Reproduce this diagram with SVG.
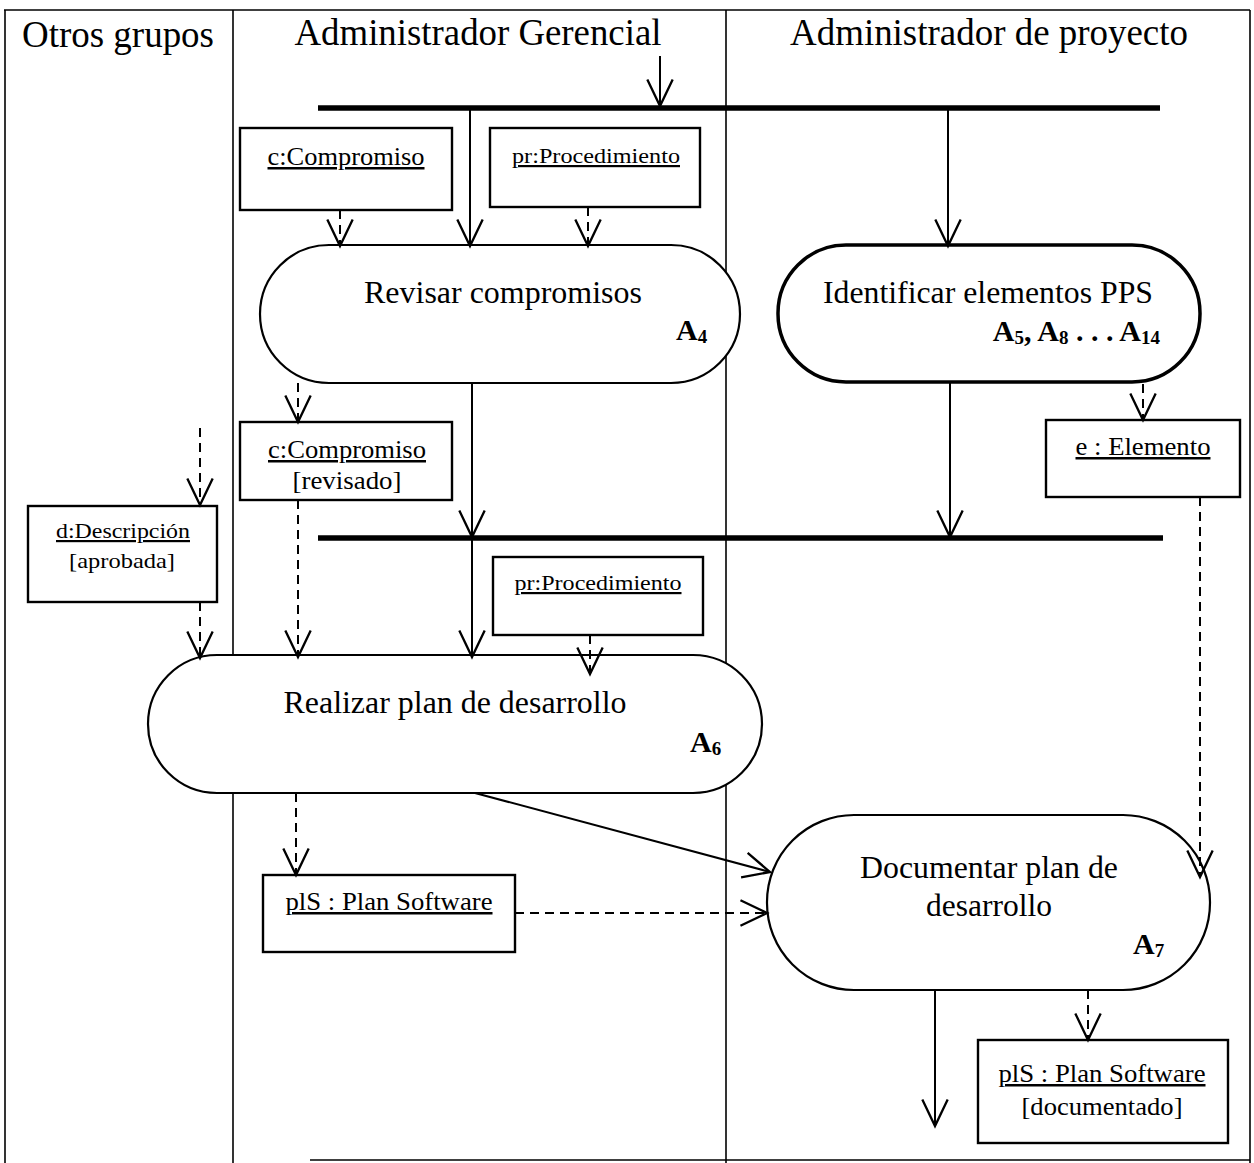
<svg xmlns="http://www.w3.org/2000/svg" width="1254" height="1163" viewBox="0 0 1254 1163">
  <style>
    text { font-family: "Liberation Serif", "Times New Roman", serif; fill: #000; }
    .lane { stroke: #000; stroke-width: 1.6; fill: none; }
    .hdr { font-size: 37px; }
    .act { fill: #fff; stroke: #000; stroke-width: 2.2; }
    .act-bold { fill: #fff; stroke: #000; stroke-width: 3.5; }
    .obj { fill: #fff; stroke: #000; stroke-width: 2.4; }
    .name { font-size: 31px; }
    .code { font-size: 30px; font-weight: bold; }
    .sub { font-size: 19px; font-weight: bold; }
    .lbl { font-size: 25px; }
    .lbl-s { font-size: 22px; }
    .u { text-decoration: underline; }
    .flow { stroke: #000; stroke-width: 2; fill: none; marker-end: url(#open); }
    .dflow { stroke: #000; stroke-width: 2; fill: none; stroke-dasharray: 9 6; marker-end: url(#open); }
    .bar { stroke: #000; stroke-width: 5.5; }
  </style>
  <defs>
    <marker id="open" markerUnits="userSpaceOnUse" markerWidth="30" markerHeight="30" viewBox="-24 -13 26 26" refX="0" refY="0" orient="auto" overflow="visible">
      <path d="M-23,-11 L0,0 L-23,11" fill="none" stroke="#000" stroke-width="2"/>
    </marker>
  </defs>

  <rect width="1254" height="1163" fill="#fff"/>

  <!-- swimlanes -->
  <g id="lanes">
    <line class="lane" x1="4" y1="10" x2="1250" y2="10"/>
    <line class="lane" x1="5" y1="10" x2="5" y2="1163"/>
    <line class="lane" x1="233" y1="10" x2="233" y2="1163"/>
    <line class="lane" x1="726" y1="10" x2="726" y2="1163"/>
    <line class="lane" x1="1250" y1="10" x2="1250" y2="1163"/>
    <line class="lane" x1="310" y1="1160" x2="1250" y2="1160"/>
    <text class="hdr" x="118" y="47" text-anchor="middle" textLength="192" lengthAdjust="spacingAndGlyphs">Otros grupos</text>
    <text class="hdr" x="478" y="45" text-anchor="middle" textLength="367" lengthAdjust="spacingAndGlyphs">Administrador Gerencial</text>
    <text class="hdr" x="989" y="45" text-anchor="middle" textLength="398" lengthAdjust="spacingAndGlyphs">Administrador de proyecto</text>
  </g>

  <!-- synchronisation bars -->
  <g id="fork">
    <line class="bar" x1="318" y1="108" x2="1160" y2="108"/>
  </g>
  <g id="join">
    <line class="bar" x1="318" y1="538" x2="1163" y2="538"/>
  </g>

  <!-- object nodes -->
  <g id="obj-compromiso">
    <rect class="obj" x="240" y="128" width="212" height="82"/>
    <text class="lbl u" x="346" y="165" text-anchor="middle" textLength="157" lengthAdjust="spacingAndGlyphs">c:Compromiso</text>
  </g>
  <g id="obj-procedimiento">
    <rect class="obj" x="490" y="128" width="210" height="79"/>
    <text class="lbl-s u" x="596" y="163" text-anchor="middle" textLength="168" lengthAdjust="spacingAndGlyphs">pr:Procedimiento</text>
  </g>
  <g id="obj-compromiso-revisado">
    <rect class="obj" x="240" y="422" width="212" height="78"/>
    <text class="lbl u" x="347" y="458" text-anchor="middle" textLength="158" lengthAdjust="spacingAndGlyphs">c:Compromiso</text>
    <text class="lbl" x="347" y="489" text-anchor="middle" textLength="109" lengthAdjust="spacingAndGlyphs">[revisado]</text>
  </g>
  <g id="obj-elemento">
    <rect class="obj" x="1046" y="420" width="194" height="77"/>
    <text class="lbl u" x="1143" y="455" text-anchor="middle" textLength="135" lengthAdjust="spacingAndGlyphs">e : Elemento</text>
  </g>
  <g id="obj-descripcion">
    <rect class="obj" x="28" y="506" width="189" height="96"/>
    <text class="lbl-s u" x="123" y="538" text-anchor="middle" textLength="134" lengthAdjust="spacingAndGlyphs">d:Descripción</text>
    <text class="lbl-s" x="122" y="568" text-anchor="middle" textLength="106" lengthAdjust="spacingAndGlyphs">[aprobada]</text>
  </g>
  <g id="obj-procedimiento-2">
    <rect class="obj" x="493" y="557" width="210" height="78"/>
    <text class="lbl-s u" x="598" y="590" text-anchor="middle" textLength="167" lengthAdjust="spacingAndGlyphs">pr:Procedimiento</text>
  </g>
  <g id="obj-plan">
    <rect class="obj" x="263" y="875" width="252" height="77"/>
    <text class="lbl u" x="389" y="910" text-anchor="middle" textLength="207" lengthAdjust="spacingAndGlyphs">plS : Plan Software</text>
  </g>
  <g id="obj-plan-documentado">
    <rect class="obj" x="978" y="1040" width="250" height="103"/>
    <text class="lbl u" x="1102" y="1082" text-anchor="middle" textLength="207" lengthAdjust="spacingAndGlyphs">plS : Plan Software</text>
    <text class="lbl" x="1102" y="1115" text-anchor="middle" textLength="161" lengthAdjust="spacingAndGlyphs">[documentado]</text>
  </g>

  <!-- activity nodes -->
  <g id="act-revisar">
    <rect class="act" x="260" y="245" width="480" height="138" rx="69" ry="69"/>
    <text class="name" x="503" y="303" text-anchor="middle" textLength="278" lengthAdjust="spacingAndGlyphs">Revisar compromisos</text>
    <text class="code" x="676" y="340">A<tspan class="sub" dy="3">4</tspan></text>
  </g>
  <g id="act-identificar">
    <rect class="act-bold" x="778" y="245" width="422" height="137" rx="68" ry="68"/>
    <text class="name" x="988" y="303" text-anchor="middle" textLength="330" lengthAdjust="spacingAndGlyphs">Identificar elementos PPS</text>
    <text class="code" x="1160" y="341" text-anchor="end">A<tspan class="sub" dy="3">5</tspan><tspan dy="-3">, A</tspan><tspan class="sub" dy="3">8</tspan><tspan dy="-3"> . . . A</tspan><tspan class="sub" dy="3">14</tspan></text>
  </g>
  <g id="act-realizar">
    <rect class="act" x="148" y="655" width="614" height="138" rx="69" ry="69"/>
    <text class="name" x="455" y="713" text-anchor="middle" textLength="343" lengthAdjust="spacingAndGlyphs">Realizar plan de desarrollo</text>
    <text class="code" x="690" y="752">A<tspan class="sub" dy="3">6</tspan></text>
  </g>
  <g id="act-documentar">
    <rect class="act" x="767" y="815" width="443" height="175" rx="87" ry="87"/>
    <text class="name" x="989" y="878" text-anchor="middle" textLength="258" lengthAdjust="spacingAndGlyphs">Documentar plan de</text>
    <text class="name" x="989" y="916" text-anchor="middle" textLength="126" lengthAdjust="spacingAndGlyphs">desarrollo</text>
    <text class="code" x="1133" y="954">A<tspan class="sub" dy="3">7</tspan></text>
  </g>

  <!-- connectors (drawn last so arrowheads sit over node outlines) -->
  <g id="connectors">
    <line class="flow" x1="660" y1="56" x2="660" y2="106"/>
    <line class="flow" x1="470" y1="108" x2="470" y2="246"/>
    <line class="flow" x1="948" y1="108" x2="948" y2="246"/>
    <line class="dflow" x1="340" y1="210" x2="340" y2="246"/>
    <line class="dflow" x1="588" y1="207" x2="588" y2="246"/>
    <line class="dflow" x1="298" y1="383" x2="298" y2="422"/>
    <line class="flow" x1="472" y1="383" x2="472" y2="537"/>
    <line class="flow" x1="950" y1="382" x2="950" y2="537"/>
    <line class="dflow" x1="1143" y1="384" x2="1143" y2="420"/>
    <line class="dflow" x1="200" y1="428" x2="200" y2="505"/>
    <line class="dflow" x1="200" y1="602" x2="200" y2="658"/>
    <line class="dflow" x1="298" y1="500" x2="298" y2="657"/>
    <line class="flow" x1="472" y1="538" x2="472" y2="657"/>
    <line class="dflow" x1="590" y1="635" x2="590" y2="674"/>
    <line class="dflow" x1="296" y1="793" x2="296" y2="875"/>
    <line class="flow" x1="475" y1="793" x2="770" y2="872"/>
    <line class="dflow" x1="515" y1="913" x2="767" y2="913"/>
    <line class="dflow" x1="1200" y1="497" x2="1200" y2="877"/>
    <line class="flow" x1="935" y1="990" x2="935" y2="1126"/>
    <line class="dflow" x1="1088" y1="990" x2="1088" y2="1040"/>
  </g>
</svg>
